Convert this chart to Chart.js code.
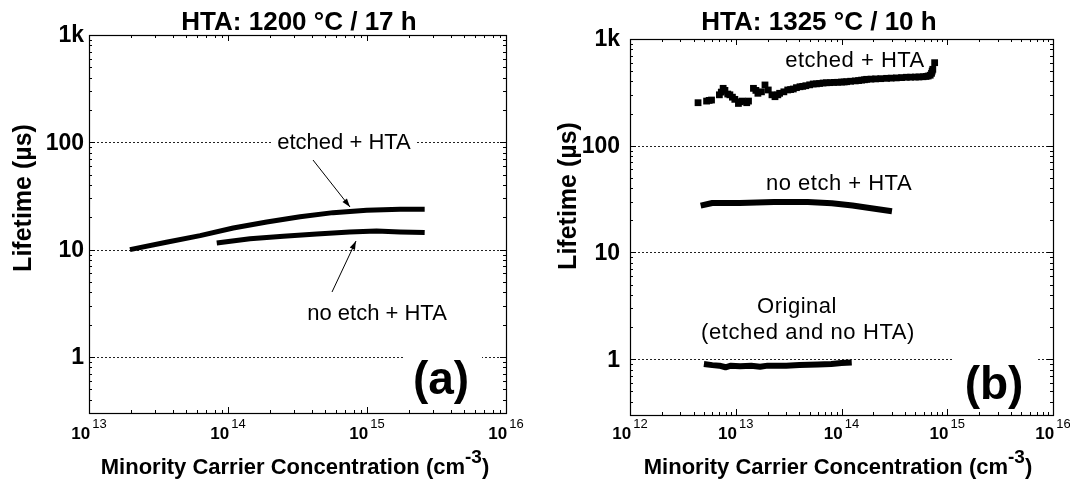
<!DOCTYPE html>
<html><head><meta charset="utf-8">
<script src="https://cdn.jsdelivr.net/npm/chart.js@4.4.1/dist/chart.umd.min.js"></script>
<style>
html,body{margin:0;padding:0;background:#fff;width:1070px;height:480px;overflow:hidden}
canvas{position:absolute;top:0}
#c1{left:0}#c2{left:535px}
</style></head>
<body>
<canvas id="c1" width="535" height="480"></canvas>
<canvas id="c2" width="535" height="480"></canvas>
<script>
// ---------- data ----------
// Panel (a): HTA 1200 °C / 17 h
const aEtchedX = [1.97e13, 3.6e13, 6.3e13, 1.09e14, 1.9e14, 3.3e14, 5.7e14, 9.95e14, 1.73e15, 2.6e15];
const aEtchedY = [10.0, 11.7, 13.5, 15.9, 18.1, 20.2, 22.1, 23.3, 23.8, 23.8];
const aNoEtchX = [8.3e13, 1.44e14, 2.5e14, 4.35e14, 7.5e14, 1.17e15, 1.73e15, 2.6e15];
const aNoEtchY = [11.5, 12.6, 13.3, 14.0, 14.6, 14.9, 14.6, 14.4];

// Panel (b): HTA 1325 °C / 10 h
const bEtchedX = [4.4e12, 5.3e12, 5.6e12, 5.9e12, 7.0e12, 7.3e12, 7.6e12, 7.9e12, 8.4e12, 8.8e12,
  9.3e12, 9.8e12, 1.06e13, 1.1e13, 1.15e13, 1.27e13, 1.32e13,
  1.47e13, 1.55e13, 1.62e13, 1.75e13, 1.89e13, 2.03e13, 2.2e13, 2.35e13, 2.5e13, 2.6e13, 2.85e13, 3.1e13,
  3.3e13, 3.5e13, 3.75e13, 4.05e13, 4.3e13, 4.6e13, 5.0e13, 5.4e13, 5.8e13, 6.2e13, 6.7e13, 7.2e13,
  7.8e13, 8.5e13, 9.2e13, 1.0e14, 1.06e14, 1.12e14, 1.22e14, 1.35e14, 1.45e14, 1.55e14, 1.65e14,
  1.73e14, 1.9e14, 2.1e14, 2.35e14, 2.67e14, 2.95e14, 3.3e14, 3.7e14, 4.1e14, 4.5e14, 5.0e14,
  5.4e14, 5.9e14, 6.3e14, 6.6e14, 6.9e14, 7.1e14, 7.2e14, 7.3e14, 7.6e14];
const bEtchedY = [253, 262, 266, 268, 300, 318, 345, 330, 305, 300,
  285, 272, 249, 258, 262, 253, 262,
  345, 330, 310, 320, 371, 333, 300, 288, 300, 310, 320, 333,
  336, 340, 350, 357, 360, 365, 372, 379, 380, 383, 387, 389,
  390, 392, 393, 395, 396, 398, 402, 405, 408, 412, 415,
  419, 421, 423, 425, 428, 430, 432, 435, 438, 439, 440,
  441, 443, 446, 450, 458, 477, 500, 520, 600];
const bNoEtchX = [4.66e12, 6.0e12, 1.09e13, 2.3e13, 4.8e13, 8.1e13, 1.27e14, 1.84e14, 3.0e14];
const bNoEtchY = [27.5, 29.1, 29.1, 29.7, 29.7, 28.9, 27.5, 26.1, 24.3];
const bOrigX = [5.0e12, 6.0e12, 7.0e12, 8.0e12, 9.0e12, 1.1e13, 1.4e13, 1.7e13, 2.0e13, 3.0e13, 4.0e13, 6.0e13, 8.0e13, 1.0e14, 1.25e14];
const bOrigY = [0.90, 0.88, 0.87, 0.84, 0.87, 0.86, 0.87, 0.85, 0.87, 0.87, 0.88, 0.89, 0.90, 0.92, 0.93];

// ticks / labels
const yTickValues = [1, 10, 100, 1000];
const yTickLabels = ['1', '10', '100', '1k'];
const gridValues = [1, 10, 100];
const xExpA = [13, 14, 15, 16];
const xExpB = [12, 13, 14, 15, 16];
const titleA = 'HTA: 1200 \u00B0C / 17 h';
const titleB = 'HTA: 1325 \u00B0C / 10 h';
const yTitle = 'Lifetime (\u00B5s)';
const xTitle = 'Minority Carrier Concentration (cm';

const FONT = '"Liberation Sans", Arial, Helvetica, sans-serif';

function pts(xs, ys) { return xs.map((x, i) => ({x: x, y: ys[i]})); }

function decoPlugin(cfg) {
  return {
    id: 'deco',
    beforeDatasetsDraw(chart) {
      const ctx = chart.ctx, a = chart.chartArea, ys = chart.scales.y;
      ctx.save();
      ctx.strokeStyle = '#222'; ctx.lineWidth = 1; ctx.setLineDash([2, 2]);
      for (const v of gridValues) {
        const y = Math.round(ys.getPixelForValue(v)) + 0.5;
        ctx.beginPath(); ctx.moveTo(a.left, y); ctx.lineTo(a.right, y); ctx.stroke();
      }
      ctx.setLineDash([]);
      for (const L of cfg.labels) {
        if (L.box) { ctx.fillStyle = '#fff'; ctx.fillRect(L.box[0], L.box[1], L.box[2] - L.box[0], L.box[3] - L.box[1]); }
      }
      for (const L of cfg.labels) {
        ctx.fillStyle = '#000'; ctx.font = L.font; ctx.textAlign = 'center'; ctx.textBaseline = 'middle';
        ctx.letterSpacing = L.spacing || '0px';
        ctx.fillText(L.text, L.x, L.y);
        ctx.letterSpacing = '0px';
      }
      ctx.restore();
    },
    afterDatasetsDraw(chart) {
      const ctx = chart.ctx, a = chart.chartArea, xs = chart.scales.x, ys = chart.scales.y;
      ctx.save();
      // frame
      ctx.strokeStyle = '#000'; ctx.lineWidth = 1.2;
      ctx.strokeRect(a.left + 0.5, a.top + 0.5, a.right - a.left, a.bottom - a.top);
      // ticks
      ctx.lineWidth = 1;
      ctx.beginPath();
      for (let e = cfg.xMinExp; e < cfg.xMaxExp + 1; e++) {
        for (let m = 1; m <= 9; m++) {
          const v = m * Math.pow(10, e);
          if (e === cfg.xMaxExp && m > 1) break;
          const x = Math.round(xs.getPixelForValue(v)) + 0.5;
          const len = m === 1 ? 6 : 3;
          ctx.moveTo(x, a.bottom); ctx.lineTo(x, a.bottom - len);
          ctx.moveTo(x, a.top); ctx.lineTo(x, a.top + len);
        }
      }
      const yv = [0.3,0.4,0.5,0.6,0.7,0.8,0.9,1,2,3,4,5,6,7,8,9,10,20,30,40,50,60,70,80,90,100,200,300,400,500,600,700,800,900,1000];
      for (const v of yv) {
        const y = Math.round(ys.getPixelForValue(v)) + 0.5;
        const major = [1,10,100,1000].includes(v);
        const len = major ? 6 : 3;
        ctx.moveTo(a.left, y); ctx.lineTo(a.left + len, y);
        ctx.moveTo(a.right, y); ctx.lineTo(a.right - len, y);
      }
      ctx.stroke();
      // arrows
      for (const A of cfg.arrows) {
        ctx.strokeStyle = '#000'; ctx.lineWidth = 1;
        ctx.beginPath(); ctx.moveTo(A[0], A[1]); ctx.lineTo(A[2], A[3]); ctx.stroke();
        const ang = Math.atan2(A[3] - A[1], A[2] - A[0]);
        const hl = 9, hw = 0.32;
        ctx.fillStyle = '#000';
        ctx.beginPath();
        ctx.moveTo(A[2], A[3]);
        ctx.lineTo(A[2] - hl * Math.cos(ang - hw), A[3] - hl * Math.sin(ang - hw));
        ctx.lineTo(A[2] - hl * Math.cos(ang + hw), A[3] - hl * Math.sin(ang + hw));
        ctx.closePath(); ctx.fill();
      }
      // y tick labels
      ctx.fillStyle = '#000';
      ctx.font = 'bold 23px ' + FONT; ctx.textAlign = 'right'; ctx.textBaseline = 'middle';
      yTickValues.forEach((v, i) => {
        ctx.fillText(yTickLabels[i], a.left - cfg.yLabelGap, ys.getPixelForValue(v) + 1);
      });
      // x tick labels: 10^e
      ctx.textAlign = 'left'; ctx.textBaseline = 'alphabetic';
      for (const e of cfg.xExp) {
        const px = xs.getPixelForValue(Math.pow(10, e));
        ctx.font = 'bold 17px ' + FONT; const w1 = ctx.measureText('10').width;
        ctx.font = '13px ' + FONT; const w2 = ctx.measureText(String(e)).width;
        const x0 = px - (w1 + 2 + w2) / 2;
        ctx.font = 'bold 17px ' + FONT; ctx.fillText('10', x0, 439);
        ctx.font = '13px ' + FONT; ctx.fillText(String(e), x0 + w1 + 2, 428);
      }
      // x axis title
      ctx.font = 'bold 22px ' + FONT; const wt = ctx.measureText(xTitle).width;
      ctx.font = 'bold 19px ' + FONT; const ws = ctx.measureText('-3').width;
      ctx.font = 'bold 22px ' + FONT; const wp = ctx.measureText(')').width;
      const tx0 = cfg.xTitleX - (wt + ws + wp) / 2;
      ctx.fillText(xTitle, tx0, 474);
      ctx.font = 'bold 19px ' + FONT; ctx.fillText('-3', tx0 + wt, 463);
      ctx.font = 'bold 22px ' + FONT; ctx.fillText(')', tx0 + wt + ws, 474);
      // y axis title
      ctx.save();
      ctx.translate(cfg.yTitleX, cfg.yTitleY); ctx.rotate(-Math.PI / 2);
      ctx.font = 'bold 25px ' + FONT; ctx.textAlign = 'center'; ctx.textBaseline = 'middle';
      ctx.fillText(yTitle, 0, 0);
      ctx.restore();
      // chart title
      ctx.font = 'bold 26px ' + FONT; ctx.textAlign = 'center'; ctx.textBaseline = 'alphabetic';
      ctx.fillText(cfg.title, cfg.titleX, 30);
      ctx.restore();
    }
  };
}

function makeChart(id, datasets, xmin, xmax, pad, cfg) {
  return new Chart(document.getElementById(id), {
    type: 'scatter',
    data: { datasets: datasets },
    options: {
      responsive: false, animation: false, devicePixelRatio: 1,
      layout: { padding: pad },
      plugins: { legend: { display: false }, tooltip: { enabled: false }, title: { display: false } },
      scales: {
        x: { type: 'logarithmic', min: xmin, max: xmax, display: false },
        y: { type: 'logarithmic', min: 0.3, max: 1000, display: false }
      }
    },
    plugins: [decoPlugin(cfg)]
  });
}

const lineDS = (xs, ys, w) => ({
  data: pts(xs, ys), showLine: true, borderColor: '#000', backgroundColor: '#000',
  borderWidth: w, pointRadius: 0, borderCapStyle: 'butt', borderJoinStyle: 'round', tension: 0
});

makeChart('c1', [
  lineDS(aEtchedX, aEtchedY, 5),
  lineDS(aNoEtchX, aNoEtchY, 5)
], 1e13, 1e16, { left: 89, right: 29, top: 35, bottom: 67 }, {
  xMinExp: 13, xMaxExp: 16, xExp: xExpA, yLabelGap: 5,
  title: titleA, titleX: 299, xTitleX: 295, yTitleX: 24, yTitleY: 198,
  labels: [
    { text: 'etched + HTA', x: 344, y: 143, font: '22px ' + FONT, box: [272, 132, 415, 154] },
    { text: 'no etch + HTA', x: 377, y: 314, font: '22px ' + FONT },
    { text: '(a)', x: 441, y: 381, font: 'bold 46px ' + FONT, box: [403, 345, 482, 410] }
  ],
  arrows: [[313, 160, 350, 207], [332, 292, 356, 241]]
});

makeChart('c2', [
  { data: pts(bEtchedX, bEtchedY), showLine: false, pointStyle: 'rect', pointRadius: 4.8,
    backgroundColor: '#000', borderColor: '#000', borderWidth: 0 },
  lineDS(bNoEtchX, bNoEtchY, 6),
  lineDS(bOrigX, bOrigY, 6)
], 1e12, 1e16, { left: 95, right: 17, top: 39, bottom: 65 }, {
  xMinExp: 12, xMaxExp: 16, xExp: xExpB, yLabelGap: 10,
  title: titleB, titleX: 284, xTitleX: 303, yTitleX: 34, yTitleY: 196,
  labels: [
    { text: 'etched + HTA', x: 320, y: 61, font: '22px ' + FONT, spacing: '0.5px' },
    { text: 'no etch + HTA', x: 304, y: 184, font: '22px ' + FONT, spacing: '0.5px' },
    { text: 'Original', x: 262, y: 307, font: '22px ' + FONT, spacing: '0.5px' },
    { text: '(etched and no HTA)', x: 273, y: 333, font: '22px ' + FONT, spacing: '0.6px' },
    { text: '(b)', x: 459, y: 386, font: 'bold 46px ' + FONT, box: [417, 350, 503, 410] }
  ],
  arrows: []
});
</script>
</body></html>
